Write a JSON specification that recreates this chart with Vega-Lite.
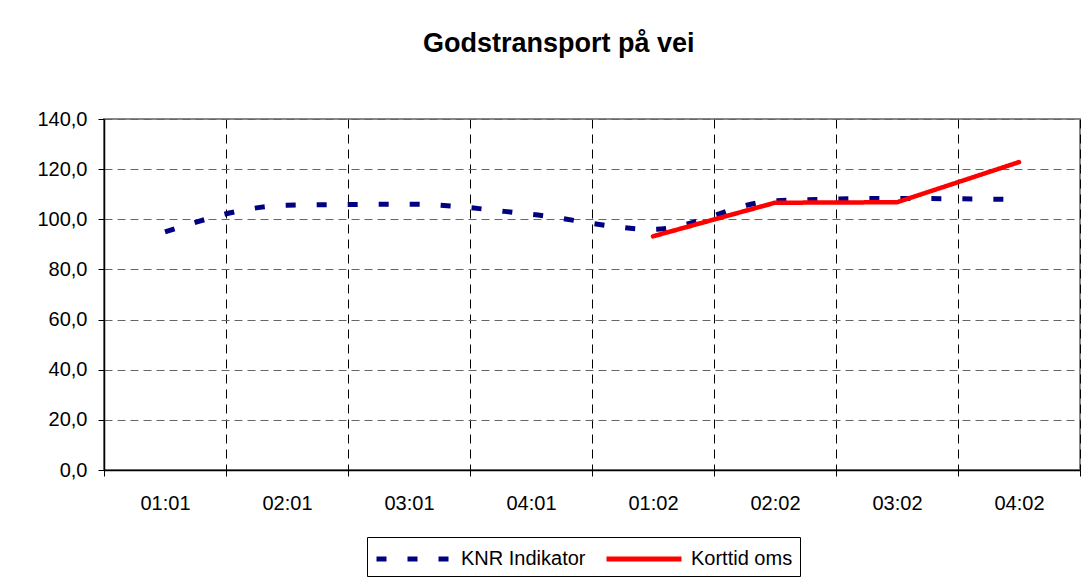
{
  "$schema": "https://vega.github.io/schema/vega-lite/v6.json",
  "width": 976,
  "height": 351,
  "autosize": {"type": "none"},
  "padding": {"left": 104, "top": 119, "right": 6, "bottom": 108},
  "background": "white",
  "config": {
    "font": "Liberation Sans",
    "view": {"stroke": "#888888", "strokeWidth": 2}
  },
  "title": {
    "text": "Godstransport på vei",
    "font": "Liberation Sans",
    "fontSize": 27,
    "fontWeight": "bold",
    "color": "#000000",
    "anchor": "middle",
    "frame": "bounds",
    "baseline": "alphabetic",
    "offset": 30
  },
  "data": {
    "values": [
      {"period": "01:01", "series": "KNR Indikator", "value": 95.0},
      {"period": "02:01", "series": "KNR Indikator", "value": 105.6},
      {"period": "03:01", "series": "KNR Indikator", "value": 106.0},
      {"period": "04:01", "series": "KNR Indikator", "value": 102.0},
      {"period": "01:02", "series": "KNR Indikator", "value": 96.0},
      {"period": "02:02", "series": "KNR Indikator", "value": 107.4},
      {"period": "03:02", "series": "KNR Indikator", "value": 108.3},
      {"period": "04:02", "series": "KNR Indikator", "value": 107.9},
      {"period": "01:02", "series": "Korttid oms", "value": 93.2},
      {"period": "02:02", "series": "Korttid oms", "value": 106.6},
      {"period": "03:02", "series": "Korttid oms", "value": 106.8},
      {"period": "04:02", "series": "Korttid oms", "value": 122.8}
    ]
  },
  "encoding": {
    "x": {
      "field": "period",
      "type": "ordinal",
      "bandPosition": 0.5,
      "sort": ["01:01", "02:01", "03:01", "04:01", "01:02", "02:02", "03:02", "04:02"],
      "scale": {"type": "band", "paddingInner": 0, "paddingOuter": 0},
      "axis": {
        "title": null,
        "labelAngle": 0,
        "labelFont": "Liberation Sans",
        "labelFontSize": 20,
        "labelColor": "#000000",
        "labelPadding": 17,
        "tickBand": "extent",
        "tickSize": 6,
        "tickColor": "#000000",
        "domainColor": "#000000",
        "domainWidth": 1.5,
        "grid": true,
        "gridColor": "#000000",
        "gridDash": [9, 6],
        "gridWidth": 1
      }
    },
    "y": {
      "field": "value",
      "type": "quantitative",
      "scale": {"domain": [0, 140], "nice": false, "zero": true},
      "axis": {
        "title": null,
        "values": [0, 20, 40, 60, 80, 100, 120, 140],
        "labelExpr": "replace(format(datum.value, '.1f'), '.', ',')",
        "labelFont": "Liberation Sans",
        "labelFontSize": 20,
        "labelColor": "#000000",
        "labelPadding": 11,
        "tickSize": 6,
        "tickColor": "#000000",
        "domainColor": "#000000",
        "domainWidth": 1.5,
        "grid": true,
        "gridColor": "#666666",
        "gridDash": [8, 5],
        "gridWidth": 1
      }
    },
    "color": {
      "field": "series",
      "type": "nominal",
      "scale": {"domain": ["KNR Indikator", "Korttid oms"], "range": ["#000080", "#FF0000"]},
      "legend": {
        "title": null,
        "orient": "none",
        "legendX": 263,
        "legendY": 418,
        "direction": "horizontal",
        "strokeColor": "#000000",
        "padding": 7,
        "symbolType": "M-3,0H3",
        "symbolSize": 625,
        "symbolOffset": 25,
        "symbolStrokeWidth": 5,
        "labelFont": "Liberation Sans",
        "labelFontSize": 20,
        "labelColor": "#000000",
        "labelOffset": 32,
        "columnPadding": 10
      }
    },
    "strokeDash": {
      "field": "series",
      "type": "nominal",
      "scale": {"domain": ["KNR Indikator", "Korttid oms"], "range": [[10, 21], [1, 0]]},
      "legend": {
        "title": null,
        "orient": "none",
        "legendX": 263,
        "legendY": 418,
        "direction": "horizontal",
        "strokeColor": "#000000",
        "padding": 7,
        "symbolType": "M-3,0H3",
        "symbolSize": 625,
        "symbolOffset": 25,
        "symbolStrokeWidth": 5,
        "labelFont": "Liberation Sans",
        "labelFontSize": 20,
        "labelColor": "#000000",
        "labelOffset": 32,
        "columnPadding": 10
      }
    }
  },
  "layer": [
    {
      "transform": [{"filter": "datum.series === 'KNR Indikator'"}],
      "mark": {"type": "line", "interpolate": "monotone", "strokeWidth": 5, "strokeCap": "butt"}
    },
    {
      "transform": [{"filter": "datum.series === 'Korttid oms'"}],
      "mark": {"type": "line", "interpolate": "linear", "strokeWidth": 4.5, "strokeCap": "round", "strokeJoin": "round"}
    }
  ]
}
